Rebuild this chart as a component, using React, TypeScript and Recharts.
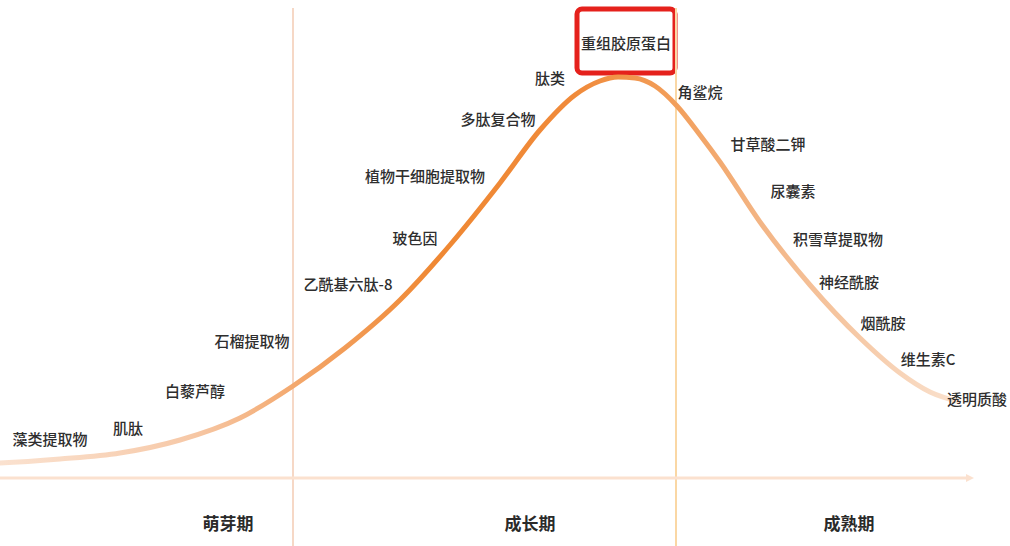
import { ComposedChart, Line, Scatter, XAxis, YAxis, ReferenceLine, ReferenceArea } from 'recharts';

// lifecycle curve (x = time, y = popularity above the baseline)
const curveX = [-30, 0, 60, 120, 180, 240, 293, 345, 400, 450, 500, 540, 575, 600, 618, 635, 655, 677, 700, 720, 760, 810, 860, 900, 930, 960];
const curveY = [14, 15, 19, 25, 38, 60, 92, 130, 178, 233, 295, 348, 383, 397, 401, 400, 392, 372, 343, 316, 256, 193, 140, 105, 86, 76];

// ingredient labels along the curve
const names = ['藻类提取物', '肌肽', '白藜芦醇', '石榴提取物', '乙酰基六肽-8', '玻色因', '植物干细胞提取物', '多肽复合物', '肽类', '角鲨烷', '甘草酸二钾', '尿囊素', '积雪草提取物', '神经酰胺', '烟酰胺', '维生素C', '透明质酸'];
const nameX = [50, 128, 195, 252, 348, 415, 425, 498, 550, 700, 768, 793, 838, 849, 883, 928, 977];
const nameY = [40, 51, 88, 138, 195, 241, 303, 360, 401, 387, 335, 288, 240, 197, 156, 120, 80];

const highlight = { name: '重组胶原蛋白', x: 626, y: 436 };

const phases = ['萌芽期', '成长期', '成熟期'];
const phaseCenters = [228, 530, 849];
const phaseBounds = [293, 676];

const curve = curveX.map((x, i) => ({ x, y: curveY[i] }));
const labels = names.map((name, i) => ({ name, x: nameX[i], y: nameY[i] }));

const FONT = '"Noto Sans CJK SC", "Noto Sans", sans-serif';

const LabelShape = (props: any) => (
  <text
    x={props.cx}
    y={props.cy}
    textAnchor="middle"
    dominantBaseline="central"
    fontSize={15}
    fontWeight={500}
    fontFamily={FONT}
    fill="#2e2e2e"
  >
    {props.payload.name}
  </text>
);

const PhaseTick = (props: any) => {
  const { x, y, payload } = props;
  const idx = phaseCenters.indexOf(payload.value);
  return (
    <text x={x} y={y + 36} textAnchor="middle" dominantBaseline="central" fontSize={17} fontWeight="bold" fontFamily={FONT} fill="#2a2a2a">
      {phases[idx]}
    </text>
  );
};

const ArrowLine = (props: any) => {
  const { x1, y1, x2, y2 } = props;
  return (
    <g>
      <line x1={x1} y1={y1} x2={x2} y2={y2} stroke="#fbe1cf" strokeWidth={3} />
      <polygon points={`${x2 + 6},${y2} ${x2 - 2},${y2 - 4} ${x2 - 2},${y2 + 4}`} fill="#fbe1cf" />
    </g>
  );
};

export default function App() {
  return (
    <div style={{ position: 'fixed', left: 0, top: 0, background: '#fff' }}>
      <ComposedChart width={1010} height={546} margin={{ top: 0, right: 0, bottom: 0, left: 0 }}>
        <defs>
          <linearGradient id="curveGrad" x1="0" y1="0" x2="1" y2="0">
            <stop offset="0%" stopColor="#f8d3b8" stopOpacity={0.6} />
            <stop offset="22%" stopColor="#f5bf98" stopOpacity={0.85} />
            <stop offset="34%" stopColor="#f3a466" />
            <stop offset="47%" stopColor="#ef8833" />
            <stop offset="61%" stopColor="#f08a3a" />
            <stop offset="71%" stopColor="#f29e5a" />
            <stop offset="80%" stopColor="#f3b585" />
            <stop offset="90%" stopColor="#f6caa8" />
            <stop offset="100%" stopColor="#fae2cf" />
          </linearGradient>
        </defs>
        <XAxis
          type="number"
          dataKey="x"
          domain={[0, 1010]}
          ticks={phaseCenters}
          tick={<PhaseTick />}
          axisLine={false}
          tickLine={false}
          height={68}
          allowDataOverflow
        />
        <YAxis type="number" dataKey="y" domain={[0, 478]} hide allowDataOverflow />
        <ReferenceLine
          segment={[{ x: phaseBounds[0], y: 470 }, { x: phaseBounds[0], y: -68 }]}
          stroke="#f6d8c6"
          strokeWidth={2}
          ifOverflow="visible"
        />
        <ReferenceLine
          segment={[{ x: phaseBounds[1], y: 470 }, { x: phaseBounds[1], y: -68 }]}
          stroke="#fad7a4"
          strokeWidth={2}
          ifOverflow="visible"
        />
        <ReferenceLine
          segment={[{ x: 0, y: 0 }, { x: 968, y: 0 }]}
          shape={<ArrowLine />}
          ifOverflow="visible"
        />
        <Line
          data={curve}
          dataKey="y"
          type="monotone"
          stroke="url(#curveGrad)"
          strokeWidth={5}
          dot={false}
          activeDot={false}
          isAnimationActive={false}
        />
        <ReferenceArea
          x1={577}
          x2={675}
          y1={405}
          y2={469}
          fill="#ffffff"
          fillOpacity={1}
          stroke="#e5211c"
          strokeWidth={5}
          radius={5}
          ifOverflow="visible"
        />
        <Scatter data={labels} dataKey="y" shape={<LabelShape />} isAnimationActive={false} />
        <Scatter data={[highlight]} dataKey="y" shape={<LabelShape />} isAnimationActive={false} />
      </ComposedChart>
    </div>
  );
}
